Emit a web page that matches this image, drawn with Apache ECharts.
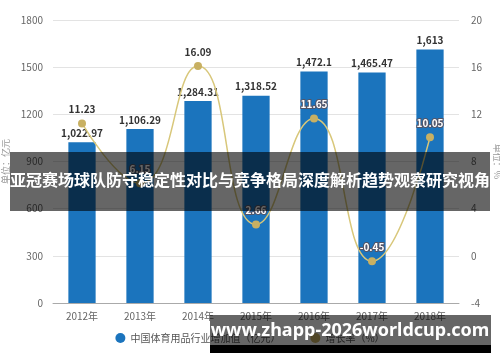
<!DOCTYPE html>
<html><head><meta charset="utf-8">
<script src="https://cdn.jsdelivr.net/npm/echarts@6/dist/echarts.min.js"></script>
<style>html,body{margin:0;padding:0;background:#fff}#c{width:500px;height:362px}</style>
</head><body><div id="c"></div>
<script>
const years = ['2012年','2013年','2014年','2015年','2016年','2017年','2018年'];
const valueAdded = [1022.97, 1106.29, 1284.31, 1318.52, 1472.1, 1465.47, 1613];
const growth = [11.23, 6.15, 16.09, 2.66, 11.65, -0.45, 10.05];
const barName = '中国体育用品行业增加值（亿元）';
const lineName = '增长率（%）';
const titleText = '亚冠赛场球队防守稳定性对比与竞争格局深度解析趋势观察研究视角';
const siteText = 'www.zhapp-2026worldcup.com';
const leftTicks = {min: 0, max: 1800, interval: 300};
const rightTicks = {min: -4, max: 20, interval: 4};

// style only: which line labels sit over a bar
const labelOnBar = [false, true, false, true, true, true, true];

const fmt = v => v.toLocaleString('en-US', {maximumFractionDigits: 2});
const font = '"Noto Sans CJK SC", "Noto Sans", sans-serif';

const chart = echarts.init(document.getElementById('c'));
chart.setOption({
  animation: false,
  textStyle: {fontFamily: font},
  grid: {left: 53, right: 41, top: 20, bottom: 59, containLabel: false, outerBoundsMode: 'none'},
  legend: {
    bottom: 14, left: 'center', itemWidth: 10, itemHeight: 10, itemGap: 30,
    textStyle: {fontSize: 10, color: '#555'},
    data: [{name: barName, icon: 'circle'}, {name: lineName, icon: 'circle'}]
  },
  xAxis: {
    type: 'category', data: years,
    axisLine: {lineStyle: {color: '#aaa'}},
    axisTick: {alignWithLabel: true, length: 4, lineStyle: {color: '#aaa'}},
    axisLabel: {color: '#666', fontSize: 10, margin: 8}
  },
  yAxis: [{
    type: 'value', min: leftTicks.min, max: leftTicks.max, interval: leftTicks.interval,
    name: '单位：亿元', nameLocation: 'middle', nameGap: 42, nameRotate: 90,
    nameTextStyle: {color: '#999', fontSize: 9},
    axisLine: {show: false}, axisTick: {show: false},
    axisLabel: {color: '#666', fontSize: 10, margin: 10, formatter: v => String(v)},
    splitLine: {lineStyle: {color: '#e3e3e3'}}
  }, {
    type: 'value', min: rightTicks.min, max: rightTicks.max, interval: rightTicks.interval,
    name: '单位：%', nameLocation: 'middle', nameGap: 28, nameRotate: -90,
    nameTextStyle: {color: '#999', fontSize: 9},
    axisLine: {show: false}, axisTick: {show: false},
    axisLabel: {color: '#666', fontSize: 10, margin: 12},
    splitLine: {show: false}
  }],
  series: [{
    name: barName, type: 'bar', data: valueAdded, barWidth: '47%',
    itemStyle: {color: '#1b74bd'},
    label: {show: true, position: 'top', formatter: p => fmt(p.value),
      color: '#333', fontSize: 10, fontWeight: 'bold', distance: 4}
  }, {
    name: lineName, type: 'line', yAxisIndex: 1, smooth: 0.5,
    data: growth.map((v, i) => ({
      value: v,
      label: labelOnBar[i]
        ? {color: '#fff', textBorderColor: '#556', textBorderWidth: 2}
        : {color: '#333', textBorderColor: '#fff', textBorderWidth: 2}
    })),
    symbol: 'circle', symbolSize: 8,
    lineStyle: {color: '#d8c77a', width: 1.5},
    itemStyle: {color: '#c8b062'},
    label: {show: true, position: 'top', fontSize: 10, fontWeight: 'bold', distance: 5}
  }],
  graphic: [
    {type: 'rect', left: 10, top: 152, shape: {width: 480, height: 59},
      style: {fill: 'rgba(0,0,0,0.6)'}, z: 100},
    {type: 'text', left: 'center', top: 172,
      style: {text: titleText, fill: '#fff', font: 'bold 16px ' + font}, z: 101},
    {type: 'rect', left: 210, top: 315, shape: {width: 281, height: 30},
      style: {fill: 'rgba(0,0,0,0.6)'}, z: 100},
    {type: 'rect', left: 210, top: 345, shape: {width: 281, height: 8},
      style: {fill: '#000'}, z: 100},
    {type: 'text', x: 350, y: 331,
      style: {text: siteText, fill: '#fff', align: 'center', verticalAlign: 'middle',
        font: 'bold 18px "Noto Sans", sans-serif'}, z: 101}
  ]
});
</script></body></html>
